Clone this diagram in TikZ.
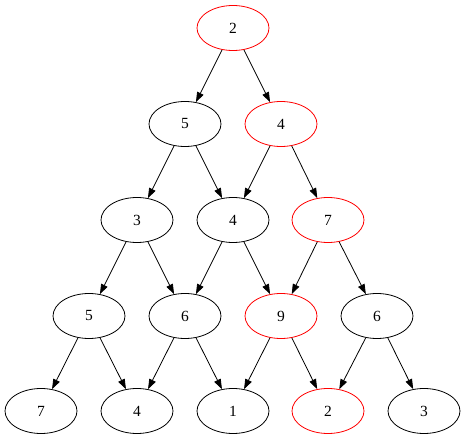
\documentclass[tikz,border=0pt]{standalone}
\usepackage{fontspec}
\setmainfont{Liberation Serif}
\usetikzlibrary{arrows.meta, shapes.geometric}

\begin{document}
\begin{tikzpicture}[
        x=1pt, y=-1pt,
        >={Triangle[length=10pt,width=7pt]},
        every node/.style={
            ellipse,
            draw=black,
            line width=0.8pt,
            minimum width=72pt,
            minimum height=45pt,
            inner sep=0pt,
            font=\fontsize{15.5}{18}\selectfont
        },
        hot/.style={draw=red},
        edge/.style={->, line width=0.8pt}
    ]
        \useasboundingbox (0,0) rectangle (467,443);

        % Row 1
        \node[hot] (r1) at (233,28) {2};
        % Row 2
        \node (r2a) at (185,124) {5};
        \node[hot] (r2b) at (281,124) {4};
        % Row 3
        \node (r3a) at (137,220) {3};
        \node (r3b) at (233,220) {4};
        \node[hot] (r3c) at (328,220) {7};
        % Row 4
        \node (r4a) at (89,316) {5};
        \node (r4b) at (185,316) {6};
        \node[hot] (r4c) at (281,316) {9};
        \node (r4d) at (377,316) {6};
        % Row 5
        \node (r5a) at (41,411) {7};
        \node (r5b) at (137,411) {4};
        \node (r5c) at (233,411) {1};
        \node[hot] (r5d) at (328,411) {2};
        \node (r5e) at (424,411) {3};

        % Edges
        \draw[edge] (r1) -- (r2a);
        \draw[edge] (r1) -- (r2b);
        \draw[edge] (r2a) -- (r3a);
        \draw[edge] (r2a) -- (r3b);
        \draw[edge] (r2b) -- (r3b);
        \draw[edge] (r2b) -- (r3c);
        \draw[edge] (r3a) -- (r4a);
        \draw[edge] (r3a) -- (r4b);
        \draw[edge] (r3b) -- (r4b);
        \draw[edge] (r3b) -- (r4c);
        \draw[edge] (r3c) -- (r4c);
        \draw[edge] (r3c) -- (r4d);
        \draw[edge] (r4a) -- (r5a);
        \draw[edge] (r4a) -- (r5b);
        \draw[edge] (r4b) -- (r5b);
        \draw[edge] (r4b) -- (r5c);
        \draw[edge] (r4c) -- (r5c);
        \draw[edge] (r4c) -- (r5d);
        \draw[edge] (r4d) -- (r5d);
        \draw[edge] (r4d) -- (r5e);
\end{tikzpicture}
\end{document}
